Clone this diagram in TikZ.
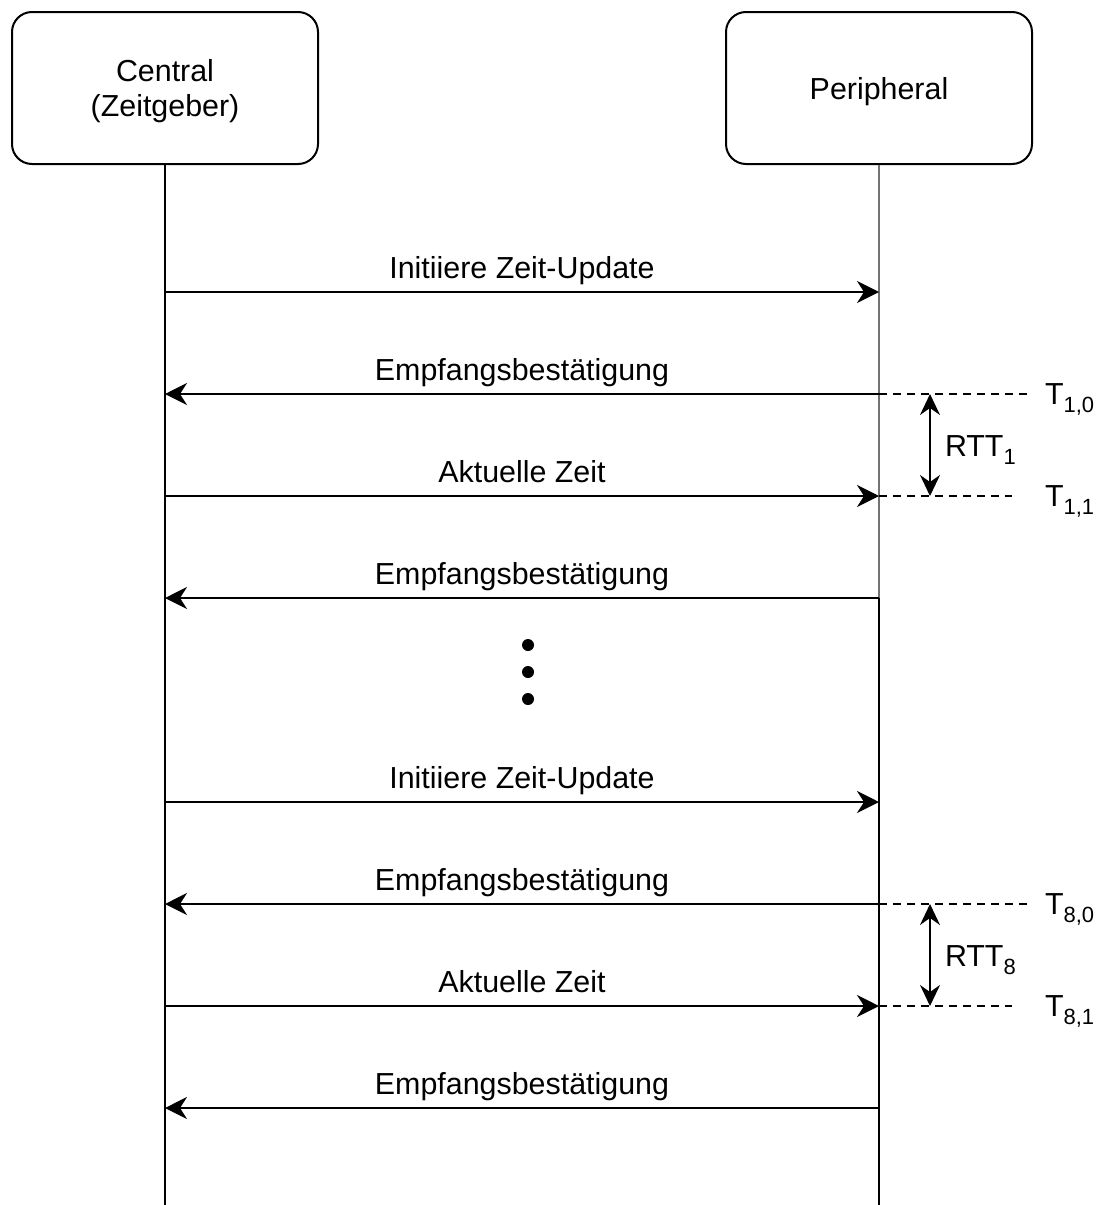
\documentclass[tikz,border=0pt]{standalone}
\usepackage{fontspec}
\setmainfont{Liberation Sans}
\usetikzlibrary{arrows.meta}

\newcommand{\lowsub}[1]{\raisebox{-4pt}{\fontsize{11}{11}\selectfont #1}}

\tikzset{every picture/.style={line width=1pt}}
\tikzset{
  actor/.style={draw, rounded corners=10pt, minimum width=153pt, minimum height=76pt, align=center, inner sep=0pt, text depth=0pt},
  msg/.style={-{Stealth[length=11pt,width=11pt,inset=3.5pt]}},
  rtt/.style={{Stealth[length=10.5pt,width=10pt,inset=3.5pt]}-{Stealth[length=10.5pt,width=10pt,inset=3.5pt]}},
  msglabel/.style={midway, anchor=base, yshift=6.75pt, inner sep=0pt},
  mark line/.style={dash pattern=on 4pt off 3pt},
  tlabel/.style={anchor=base west, inner sep=0pt},
  dot/.style={circle, fill, inner sep=0pt, minimum size=6pt}
}

\begin{document}
\begin{tikzpicture}[x=0.5pt,y=0.5pt,yscale=-1,xscale=1,
  every node/.style={font=\fontsize{15.2}{17.5}\selectfont}]
\useasboundingbox (0,0) rectangle (1104,1205);

%Actors
\node [actor] (central) at (165,88) {Central\\(Zeitgeber)};
\node [actor] (peripheral) at (879,88) {Peripheral};

%Points on the lifelines
\coordinate (c1) at (165,292);  \coordinate (p1) at (879,292);
\coordinate (c2) at (165,394);  \coordinate (p2) at (879,394);
\coordinate (c3) at (165,496);  \coordinate (p3) at (879,496);
\coordinate (c4) at (165,598);  \coordinate (p4) at (879,598);
\coordinate (c5) at (165,802);  \coordinate (p5) at (879,802);
\coordinate (c6) at (165,904);  \coordinate (p6) at (879,904);
\coordinate (c7) at (165,1006); \coordinate (p7) at (879,1006);
\coordinate (c8) at (165,1108); \coordinate (p8) at (879,1108);
\coordinate (cend) at (165,1205);
\coordinate (pend) at (879,1205);

%Lifelines
\draw (central) -- (cend);
\draw [black!55] (peripheral) -- (p4);
\draw (p4) -- (pend);

%Messages, first round
\draw [msg] (c1) -- (p1) node [msglabel] {Initiiere Zeit-Update};
\draw [msg] (p2) -- (c2) node [msglabel] {Empfangsbestätigung};
\draw [msg] (c3) -- (p3) node [msglabel] {Aktuelle Zeit};
\draw [msg] (p4) -- (c4) node [msglabel] {Empfangsbestätigung};

%Dots
\node [dot] (dot1) at (528,645) {};
\node [dot] (dot2) at (528,672) {};
\node [dot] (dot3) at (528,699) {};

%Messages, last round
\draw [msg] (c5) -- (p5) node [msglabel] {Initiiere Zeit-Update};
\draw [msg] (p6) -- (c6) node [msglabel] {Empfangsbestätigung};
\draw [msg] (c7) -- (p7) node [msglabel] {Aktuelle Zeit};
\draw [msg] (p8) -- (c8) node [msglabel] {Empfangsbestätigung};

%Time marks
\coordinate (m10) at (1030,394);
\coordinate (m11) at (1012,496);
\coordinate (m80) at (1030,904);
\coordinate (m81) at (1012,1006);
\draw [mark line] (p2) -- (m10);
\draw [mark line] (p3) -- (m11);
\draw [mark line] (p6) -- (m80);
\draw [mark line] (p7) -- (m81);

\node [tlabel] (t10) at (1044,404) {T\lowsub{1,0}};
\node [tlabel] (t11) at (1044,506) {T\lowsub{1,1}};
\node [tlabel] (t80) at (1044,914) {T\lowsub{8,0}};
\node [tlabel] (t81) at (1044,1016) {T\lowsub{8,1}};

%Round trip times
\coordinate (r10) at (930,394);
\coordinate (r11) at (930,496);
\coordinate (r80) at (930,904);
\coordinate (r81) at (930,1006);
\draw [rtt] (r10) -- (r11);
\draw [rtt] (r80) -- (r81);

\node [tlabel] (rtt1) at (944,456) {RTT\lowsub{1}};
\node [tlabel] (rtt8) at (944,966) {RTT\lowsub{8}};

\end{tikzpicture}
\end{document}
